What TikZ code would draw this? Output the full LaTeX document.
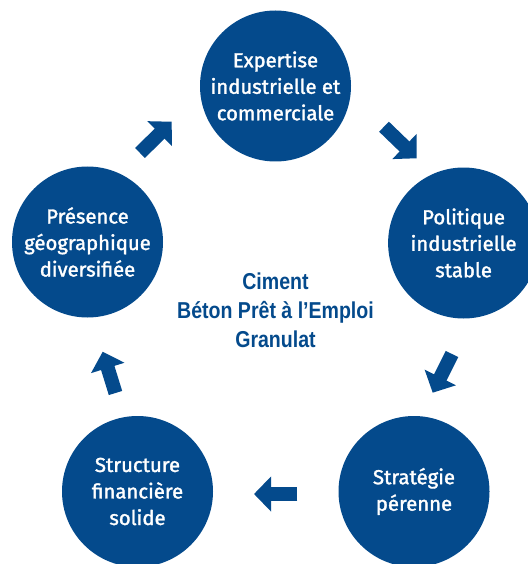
\documentclass[tikz,border=0pt]{standalone}
\usepackage{fontspec}
\setmainfont{Fira Sans}[FakeBold=1.6]
\newfontfamily\centrefont[FakeStretch=0.85]{Liberation Sans}
\usepackage{tikz}
\usetikzlibrary{arrows.meta}
\definecolor{lafblue}{RGB}{4,74,140}

\begin{document}
\begin{tikzpicture}[x=1pt, y=-1pt,
  pole/.style={circle, fill=lafblue, minimum size=151pt, inner sep=0pt,
    text=white, align=center, font=\fontsize{20.3}{26.5}\selectfont},
  cyclearrow/.style={draw=lafblue, line width=14pt,
    -{Triangle[width=34pt,length=17pt]}}]
\useasboundingbox (0,0) rectangle (527,564);

%poles
\node[pole] (expertise) at (275.5,86) {Expertise\\industrielle et\\commerciale};
\node[pole] (politique) at (463.6,243) {Politique\\industrielle\\stable};
\node[pole] (strategie) at (414,491.5) {Stratégie\\pérenne};
\node[pole] (structure) at (137.5,491.5) {Structure\\financière\\solide};
\node[pole] (presence) at (87.5,242) {Présence\\géographique\\diversifiée};

%centre
\node[text=lafblue, align=center, font=\centrefont\bfseries\fontsize{23}{29}\selectfont]
  (metiers) at (275.5,310) {Ciment\\Béton Prêt à l’Emploi\\Granulat};

%arrows
\coordinate (a1s) at (140,153);   \coordinate (a1e) at (171.7,121.7);
\coordinate (a2s) at (384,126.7); \coordinate (a2e) at (416.7,158.3);
\coordinate (a3s) at (452,354);   \coordinate (a3e) at (432.7,392.7);
\coordinate (a4s) at (297.3,494); \coordinate (a4e) at (254,494);
\coordinate (a5s) at (115.5,393); \coordinate (a5e) at (102.7,351.7);
\foreach \i in {1,...,5} {
  \draw[cyclearrow] (a\i s) -- (a\i e);
}
\end{tikzpicture}
\end{document}
